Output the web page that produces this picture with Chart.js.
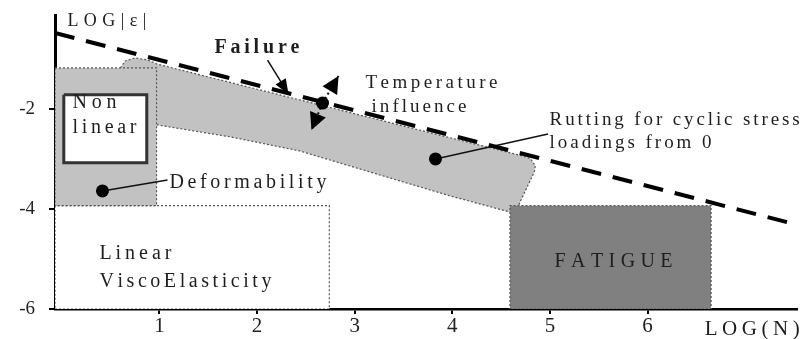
<!DOCTYPE html>
<html lang="en">
<head>
<meta charset="utf-8">
<title>Behaviour domains - LOG(N) vs LOG|e|</title>
<script src="https://cdn.jsdelivr.net/npm/chart.js@4.4.0/dist/chart.umd.min.js"></script>
<style>
  body { margin: 0; background: #fff; }
  #wrap { width: 804px; height: 339px; }
</style>
</head>
<body>
<div id="wrap"><canvas id="myChart" width="804" height="339"></canvas></div>
<script>
// axis ticks
const xTicks = [1, 2, 3, 4, 5, 6];
const yTicks = [-2, -4, -6];

// domains (LOG(N), LOG|eps|)
const viscoX = [-0.07, 2.74, 2.74, -0.07, -0.07];
const viscoY = [-6, -6, -3.93, -3.93, -6];

const nonlinX = [-0.07, 0.97, 0.97, -0.07, -0.07];
const nonlinY = [-1.17, -1.17, -3.93, -3.93, -1.17];

const boxX = [0.02, 0.87, 0.87, 0.02, 0.02];
const boxY = [-1.71, -1.71, -3.07, -3.07, -1.71];

const fatigueX = [4.59, 6.65, 6.65, 4.59, 4.59];
const fatigueY = [-6, -6, -3.93, -3.93, -6];

// rutting band, rounded corners
const bandX = [0.60, 0.65, 0.75, 0.88, 0.97, 4.71, 4.80, 4.85, 4.84, 4.69, 4.65, 3.97, 3.25, 2.43, 1.72, 0.97, 0.60, 0.60];
const bandY = [-1.17, -1.03, -0.97, -1.01, -1.09, -2.93, -2.99, -3.13, -3.25, -3.87, -4.09, -3.73, -3.31, -2.83, -2.55, -2.31, -2.31, -1.17];

// failure limit
const failX = [-0.07, 7.45];
const failY = [-0.47, -4.27];

// marker dots: deformability, temperature, rutting
const dotX = [0.416, 2.670, 3.827];
const dotY = [-3.634, -1.874, -2.994];

// leader lines
const deformLineX = [0.416, 1.082];
const deformLineY = [-3.634, -3.414];
const rutLineX = [3.827, 4.98];
const rutLineY = [-2.994, -2.494];

// arrows: failure, temperature up, temperature down
const arrowFromX = [2.107, 2.670, 2.670];
const arrowFromY = [-1.016, -1.874, -1.874];
const arrowToX = [2.322, 2.834, 2.557];
const arrowToY = [-1.696, -1.334, -2.414];

// text notes (left edge, middle)
const noteText = ['LOG|ε|', 'Failure', 'Temperature', 'influence', 'Rutting for cyclic stress', 'loadings from 0',
  'Deformability', 'Non', 'linear', 'Linear', 'ViscoElasticity', 'FATIGUE', 'LOG(N)'];
const noteX = [0.057, 1.563, 3.11, 3.172, 4.996, 4.996, 1.102, 0.109, 0.109, 0.385, 0.385, 5.047, 6.584];
const noteY = [-0.234, -0.774, -1.474, -1.954, -2.214, -2.674, -3.474, -1.874, -2.374, -4.894, -5.454, -5.054, -6.414];

// look of the notes
const noteWidth = [79, 85, 132, 95, 250, 162, 157, 44, 64, 72, 172, 118, 95];
const noteSize = [18, 20, 19, 19, 19, 19, 20, 20, 20, 20, 20, 20, 21];
const serif = "'Liberation Serif', 'DejaVu Serif', serif";

const pts = (xs, ys) => xs.map((x, i) => ({ x: x, y: ys[i] }));

const shape = (xs, ys, fill, line, width, dash, order) => ({
  data: pts(xs, ys), showLine: true, fill: 'shape', backgroundColor: fill,
  borderColor: line, borderWidth: width, borderDash: dash, pointRadius: 0, order: order
});
const stroke = (xs, ys, color, width, dash, order) => ({
  data: pts(xs, ys), showLine: true, fill: false,
  borderColor: color, borderWidth: width, borderDash: dash, pointRadius: 0, order: order
});

const datasets = [
  shape(viscoX, viscoY, '#ffffff', '#555', 1.2, [2, 2], 10),
  shape(bandX, bandY, '#c2c2c2', '#555', 1.2, [2, 2], 9),
  shape(nonlinX, nonlinY, '#c2c2c2', '#555', 1.2, [2, 2], 8),
  shape(boxX, boxY, '#ffffff', '#333', 3, [], 7),
  shape(fatigueX, fatigueY, '#808080', '#555', 1.2, [2, 2], 6),
  stroke(deformLineX, deformLineY, '#111', 1.5, [], 5),
  stroke(rutLineX, rutLineY, '#111', 1.5, [], 5),
  stroke([arrowFromX[0], arrowToX[0]], [arrowFromY[0], arrowToY[0]], '#111', 1.5, [], 5),
  stroke([arrowFromX[1], arrowToX[1]], [arrowFromY[1], arrowToY[1]], '#111', 2, [2, 3], 5),
  stroke([arrowFromX[2], arrowToX[2]], [arrowFromY[2], arrowToY[2]], '#111', 2, [2, 3], 5),
  stroke(failX, failY, '#000', 4, [20, 12], 4),
  {
    data: pts(dotX, dotY), showLine: false, pointRadius: 6.5,
    pointBackgroundColor: '#000', pointBorderColor: '#000', pointBorderWidth: 0, order: 3
  }
];

function spacedText(ctx, str, x, y, width) {
  const chars = [...str];
  let natural = 0;
  chars.forEach(c => natural += ctx.measureText(c).width);
  const gap = chars.length > 1 ? (width - natural) / (chars.length - 1) : 0;
  let cx = x;
  chars.forEach(c => {
    ctx.fillText(c, cx, y);
    cx += ctx.measureText(c).width + gap;
  });
}

const notesPlugin = {
  id: 'notes',
  afterDatasetsDraw(chart) {
    const ctx = chart.ctx;
    const sx = chart.scales.x, sy = chart.scales.y;
    ctx.save();
    ctx.fillStyle = '#000';
    arrowToX.forEach((v, i) => {
      const fx = sx.getPixelForValue(arrowFromX[i]), fy = sy.getPixelForValue(arrowFromY[i]);
      const tx = sx.getPixelForValue(v), ty = sy.getPixelForValue(arrowToY[i]);
      const a = Math.atan2(ty - fy, tx - fx);
      const L = i === 0 ? 15 : 17, W = i === 0 ? 6 : 8.5;
      ctx.beginPath();
      ctx.moveTo(tx, ty);
      ctx.lineTo(tx - L * Math.cos(a) + W * Math.sin(a), ty - L * Math.sin(a) - W * Math.cos(a));
      ctx.lineTo(tx - L * Math.cos(a) - W * Math.sin(a), ty - L * Math.sin(a) + W * Math.cos(a));
      ctx.closePath();
      ctx.fill();
    });
    ctx.restore();
  },
  afterDraw(chart) {
    const ctx = chart.ctx;
    const sx = chart.scales.x, sy = chart.scales.y;
    ctx.save();
    ctx.fillStyle = '#1e1e1e';
    ctx.textBaseline = 'middle';
    ctx.textAlign = 'left';
    noteText.forEach((t, i) => {
      ctx.font = (i === 1 ? 'bold ' : '') + noteSize[i] + 'px ' + serif;
      spacedText(ctx, t, sx.getPixelForValue(noteX[i]), sy.getPixelForValue(noteY[i]), noteWidth[i]);
    });
    ctx.restore();
  }
};

new Chart(document.getElementById('myChart'), {
  type: 'scatter',
  data: { datasets: datasets },
  options: {
    responsive: false,
    animation: false,
    events: [],
    layout: { padding: { top: 15, right: 7, bottom: 0, left: 0 } },
    plugins: { legend: { display: false }, tooltip: { enabled: false } },
    scales: {
      x: {
        type: 'linear', min: -0.07, max: 7.53, z: 1,
        afterFit: s => { s.height = 30; s.paddingLeft = 0; s.paddingRight = 0; },
        afterBuildTicks: s => { s.ticks = xTicks.map(v => ({ value: v })); },
        grid: { drawOnChartArea: false, drawTicks: true, tickLength: 5, color: '#000', lineWidth: 2 },
        border: { display: true, color: '#000', width: 2.5 },
        ticks: { autoSkip: false, maxRotation: 0, padding: 0, color: '#222', font: { family: serif, size: 21 } }
      },
      y: {
        type: 'linear', min: -6, max: -0.11, z: 1,
        afterFit: s => { s.width = 55; s.paddingTop = 0; s.paddingBottom = 0; },
        afterBuildTicks: s => { s.ticks = yTicks.map(v => ({ value: v })); },
        grid: { drawOnChartArea: false, drawTicks: true, tickLength: 6, color: '#000', lineWidth: 2 },
        border: { display: true, color: '#000', width: 3 },
        ticks: { autoSkip: false, padding: 14, color: '#222', font: { family: serif, size: 19 } }
      }
    }
  },
  plugins: [notesPlugin]
});
</script>
</body>
</html>
